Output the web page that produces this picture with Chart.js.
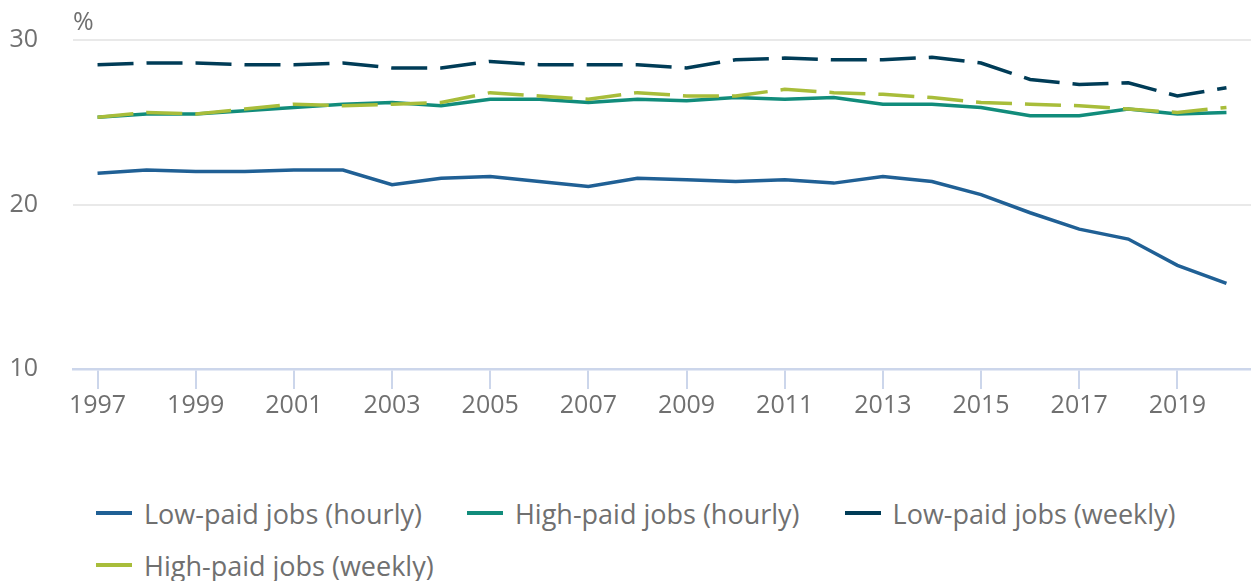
<!DOCTYPE html>
<html>
<head>
<meta charset="utf-8">
<script src="https://cdn.jsdelivr.net/npm/chart.js@4"></script>
<style>
  body { margin: 0; background: #fff; font-family: "Open Sans", sans-serif; }
  #wrap { position: relative; width: 1251px; height: 581px; }
  #legend { position: absolute; left: 0; top: 487px; width: 1251px; box-sizing: border-box;
    padding-left: 96px; display: flex; flex-wrap: wrap; }
  .item { display: flex; align-items: center; height: 52px; margin-right: 45px;
    font-size: 27px; color: #707070; white-space: nowrap; }
  .swatch { width: 36px; height: 4px; margin-right: 12px; }
</style>
</head>
<body>
<div id="wrap">
  <canvas id="myChart" width="1251" height="487"></canvas>
  <div id="legend"></div>
</div>
<script>
var years = ["1997", "1998", "1999", "2000", "2001", "2002", "2003", "2004", "2005", "2006", "2007", "2008",
  "2009", "2010", "2011", "2012", "2013", "2014", "2015", "2016", "2017", "2018", "2019", "2020"];

var lowHourly = [21.9, 22.1, 22.0, 22.0, 22.1, 22.1, 21.2, 21.6, 21.7, 21.4, 21.1, 21.6,
  21.5, 21.4, 21.5, 21.3, 21.7, 21.4, 20.6, 19.5, 18.5, 17.9, 16.3, 15.2];
var highHourly = [25.3, 25.5, 25.5, 25.7, 25.9, 26.1, 26.2, 26.0, 26.4, 26.4, 26.2, 26.4,
  26.3, 26.5, 26.4, 26.5, 26.1, 26.1, 25.9, 25.4, 25.4, 25.8, 25.5, 25.6];
var lowWeekly = [28.5, 28.6, 28.6, 28.5, 28.5, 28.6, 28.3, 28.3, 28.7, 28.5, 28.5, 28.5,
  28.3, 28.8, 28.9, 28.8, 28.8, 28.95, 28.6, 27.6, 27.3, 27.4, 26.6, 27.1];
var highWeekly = [25.3, 25.6, 25.5, 25.8, 26.1, 26.0, 26.1, 26.2, 26.8, 26.6, 26.4, 26.8,
  26.6, 26.6, 27.0, 26.8, 26.7, 26.5, 26.2, 26.1, 26.0, 25.8, 25.6, 25.9];

var yTicks = [10, 20, 30];
var unitLabel = "%";

var textGrey = "#707070";
var font = { family: "'Open Sans', sans-serif", size: 25 };

function line(label, values, color, dashed, order) {
  return {
    label: label,
    data: values,
    borderColor: color,
    backgroundColor: color,
    borderWidth: 3.5,
    borderDash: dashed ? [36, 13] : [],
    pointRadius: 0,
    tension: 0,
    order: order,
  };
}

var data = {
  labels: years,
  datasets: [
    line("Low-paid jobs (hourly)", lowHourly, "#206095", false, 3),
    line("High-paid jobs (hourly)", highHourly, "#118c7b", false, 2),
    line("Low-paid jobs (weekly)", lowWeekly, "#003c57", true, 1),
    line("High-paid jobs (weekly)", highWeekly, "#a8bd3a", true, 0),
  ],
};

// "%" above the y axis
var unitPlugin = {
  id: "unit",
  afterDraw: function (chart) {
    var c = chart.ctx;
    c.save();
    c.font = "25px 'Open Sans', sans-serif";
    c.fillStyle = textGrey;
    c.textAlign = "left";
    c.textBaseline = "middle";
    c.fillText(unitLabel, chart.chartArea.left, 23);
    c.restore();
  },
};

var options = {
  responsive: false,
  animation: false,
  layout: { padding: { top: 40, right: 0, bottom: 64, left: 0 } },
  plugins: {
    legend: { display: false },
    tooltip: { enabled: false },
  },
  scales: {
    x: {
      offset: true,
      grid: {
        offset: false,
        drawOnChartArea: false,
        tickLength: 20,
        lineWidth: 2,
        color: function (ctx) {
          return ctx.index % 2 === 0 && ctx.index < years.length - 1 ? "#ccd6eb" : "rgba(0,0,0,0)";
        },
      },
      border: { color: "#ccd6eb", width: 2.5 },
      ticks: {
        autoSkip: false,
        maxRotation: 0,
        padding: 2,
        color: textGrey,
        font: font,
        callback: function (v, i) {
          return i % 2 === 0 ? years[i] : "";
        },
      },
    },
    y: {
      min: yTicks[0],
      max: yTicks[yTicks.length - 1],
      afterFit: function (s) { s.width = 73; },
      afterBuildTicks: function (s) {
        s.ticks = yTicks.map(function (v) { return { value: v }; });
      },
      border: { display: false },
      grid: {
        drawTicks: false,
        lineWidth: 2,
        color: function (ctx) {
          return ctx.tick && ctx.tick.value === yTicks[0] ? "rgba(0,0,0,0)" : "#e9e9e9";
        },
      },
      // small lineHeight keeps the label padding from pushing the plot down
      ticks: { padding: 35, color: textGrey, font: { family: font.family, size: 25, lineHeight: 0.1 } },
    },
  },
};

var ctx = document.getElementById("myChart").getContext("2d");
var myChart = new Chart(ctx, {
  type: "line",
  data: data,
  options: options,
  plugins: [unitPlugin],
});

// legend below the chart, built from the datasets
var legendEl = document.getElementById("legend");
myChart.data.datasets.forEach(function (ds) {
  var item = document.createElement("div");
  item.className = "item";
  var sw = document.createElement("span");
  sw.className = "swatch";
  sw.style.background = ds.borderColor;
  item.appendChild(sw);
  item.appendChild(document.createTextNode(ds.label));
  legendEl.appendChild(item);
});
</script>
</body>
</html>
